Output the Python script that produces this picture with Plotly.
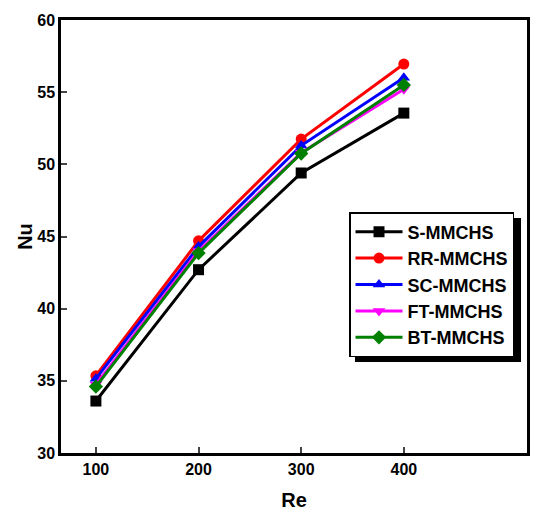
import plotly.graph_objects as go

re_vals = [100, 200, 300, 400]
s_mmchs = [33.6, 42.7, 49.4, 53.55]
rr_mmchs = [35.35, 44.7, 51.75, 56.95]
sc_mmchs = [35.15, 44.3, 51.3, 56.0]
ft_mmchs = [34.75, 44.0, 50.8, 55.2]
bt_mmchs = [34.6, 43.85, 50.75, 55.5]

series = [
    ("S-MMCHS", s_mmchs, "black", "square"),
    ("RR-MMCHS", rr_mmchs, "red", "circle"),
    ("SC-MMCHS", sc_mmchs, "blue", "triangle-up"),
    ("FT-MMCHS", ft_mmchs, "magenta", "triangle-down"),
    ("BT-MMCHS", bt_mmchs, "green", "diamond"),
]

fig = go.Figure()
for name, vals, color, sym in series:
    fig.add_trace(go.Scatter(
        x=re_vals, y=vals, name=name, mode="lines+markers",
        line=dict(color=color, width=3),
        marker=dict(symbol=sym, size=11, color=color, line=dict(width=0)),
    ))

font = "Liberation Sans, Arial, sans-serif"
OFF = 8  # page body margin
# desired plot area in page pixels
PX0, PX1, PY0, PY1 = 61, 527, 20, 453
W, H = 531, 506
L, T = PX0 - OFF, PY0 - OFF
R, B = W - (PX1 - OFF), H - (PY1 - OFF)
pw, ph = PX1 - PX0, PY1 - PY0


def px(x):
    return (x - PX0) / pw


def py(y):
    return (PY1 - y) / ph


fig.update_layout(
    width=W, height=H,
    margin=dict(l=L, r=R, t=T, b=B, autoexpand=False),
    plot_bgcolor="white", paper_bgcolor="white",
    font=dict(family=font, size=16, color="black"),
    showlegend=True,
    legend=dict(
        x=px(349), y=py(212), xanchor="left", yanchor="top",
        bgcolor="white", bordercolor="black", borderwidth=1.5,
        font=dict(family=font, size=18, color="black", weight="bold"),
        tracegroupgap=0, itemwidth=47,
    ),
    xaxis=dict(
        range=[66, 520], tickvals=re_vals, ticks="inside", ticklen=6, tickwidth=2,
        showline=True, linecolor="black", linewidth=2.5, mirror=True,
        showgrid=False, zeroline=False, automargin=False,
        tickfont=dict(family=font, size=16, weight="bold"),
        title=dict(text="<b>Re</b>", font=dict(family=font, size=20), standoff=17),
    ),
    yaxis=dict(
        range=[30, 60], dtick=5, ticks="inside", ticklen=6, tickwidth=2,
        showline=True, linecolor="black", linewidth=2.5, mirror=True,
        showgrid=False, zeroline=False, automargin=False,
        tickfont=dict(family=font, size=16, weight="bold"),
        title=dict(text="<b>Nu</b>", font=dict(family=font, size=20), standoff=0),
    ),
)

# legend drop shadow
fig.add_shape(type="rect", xref="paper", yref="paper",
              x0=px(355), x1=px(521), y0=py(362), y1=py(218),
              fillcolor="black", line=dict(width=0), layer="above")

fig.write_html("out.html")
